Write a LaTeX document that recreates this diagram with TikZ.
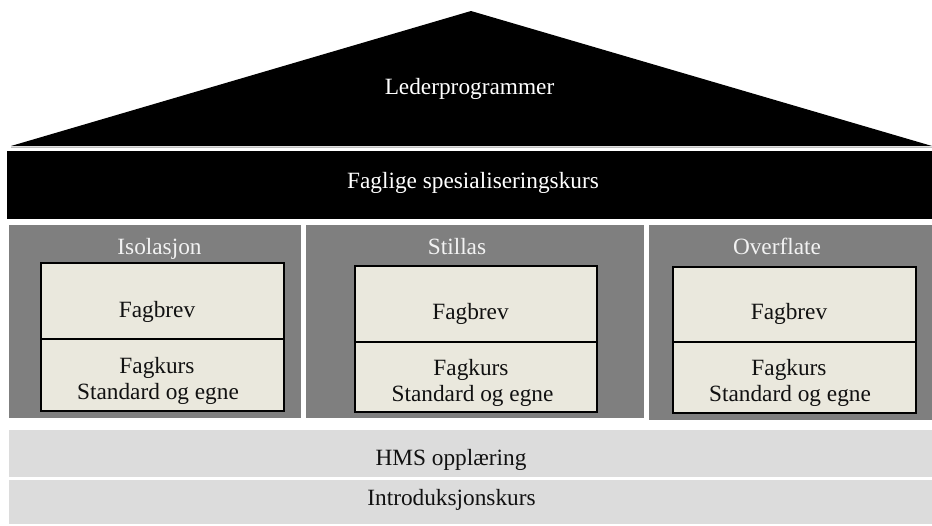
\documentclass[tikz,border=0pt]{standalone}
\usepackage{fontspec}
\setmainfont{Liberation Serif}
\definecolor{colgray}{HTML}{7F7F7F}
\definecolor{cream}{HTML}{EAE8DD}
\definecolor{lightbar}{HTML}{DCDCDC}
\definecolor{titlewhite}{HTML}{F2F2F2}
\definecolor{ink}{HTML}{111111}
\begin{document}
\begin{tikzpicture}[x=1pt,y=-1pt,
  txt/.style={font=\fontsize{23.3}{26}\selectfont, text=ink, inner sep=0pt, anchor=base},
  wtxt/.style={font=\fontsize{23.3}{26}\selectfont, text=white, inner sep=0pt, anchor=base},
  ttl/.style={font=\fontsize{23.3}{26}\selectfont, text=titlewhite, inner sep=0pt, anchor=base},
  column/.style={fill=colgray},
  innerbox/.style={fill=cream, draw=black, line width=1.6pt},
  bar/.style={fill=lightbar}]
\useasboundingbox (0,0) rectangle (932,525);
% roof
\fill[black] (11,146) -- (471,11) -- (932,146) -- cycle;
\draw[black!25, line width=0.8pt] (11,147) -- (932,147);
\node[wtxt] (roof) at (469.5,94) {Lederprogrammer};
% black bar
\fill[black] (7,151) rectangle (932,219);
\node[wtxt] (spec) at (473,188.5) {Faglige spesialiseringskurs};
% columns
\fill[column] (9,225) rectangle (301,418);
\fill[column] (306,225) rectangle (644,418);
\fill[column] (649,225) rectangle (932,420);
\node[ttl] (t1) at (159.5,254) {Isolasjon};
\node[ttl] (t2) at (457,254) {Stillas};
\node[ttl] (t3) at (777,254) {Overflate};
% inner boxes
\draw[innerbox] (41,263) rectangle (284,339);
\draw[innerbox] (41,339) rectangle (284,411);
\node[txt] (fb1) at (157,317) {Fagbrev};
\node[txt] (fk1) at (157,373) {Fagkurs};
\node[txt] (se1) at (158,399) {Standard og egne};
\draw[innerbox] (355,266) rectangle (597,342);
\draw[innerbox] (355,342) rectangle (597,412);
\node[txt] (fb2) at (470.5,319) {Fagbrev};
\node[txt] (fk2) at (471,375) {Fagkurs};
\node[txt] (se2) at (472.5,401) {Standard og egne};
\draw[innerbox] (673,267) rectangle (916,342);
\draw[innerbox] (673,342) rectangle (916,413);
\node[txt] (fb3) at (789,319) {Fagbrev};
\node[txt] (fk3) at (789,375) {Fagkurs};
\node[txt] (se3) at (790,401) {Standard og egne};
% bottom bars
\fill[bar] (9,430) rectangle (932,477);
\node[txt] (hms) at (451,465) {HMS opplæring};
\fill[bar] (9,480) rectangle (932,524);
\node[txt] (intro) at (451.5,505) {Introduksjonskurs};
\end{tikzpicture}
\end{document}
